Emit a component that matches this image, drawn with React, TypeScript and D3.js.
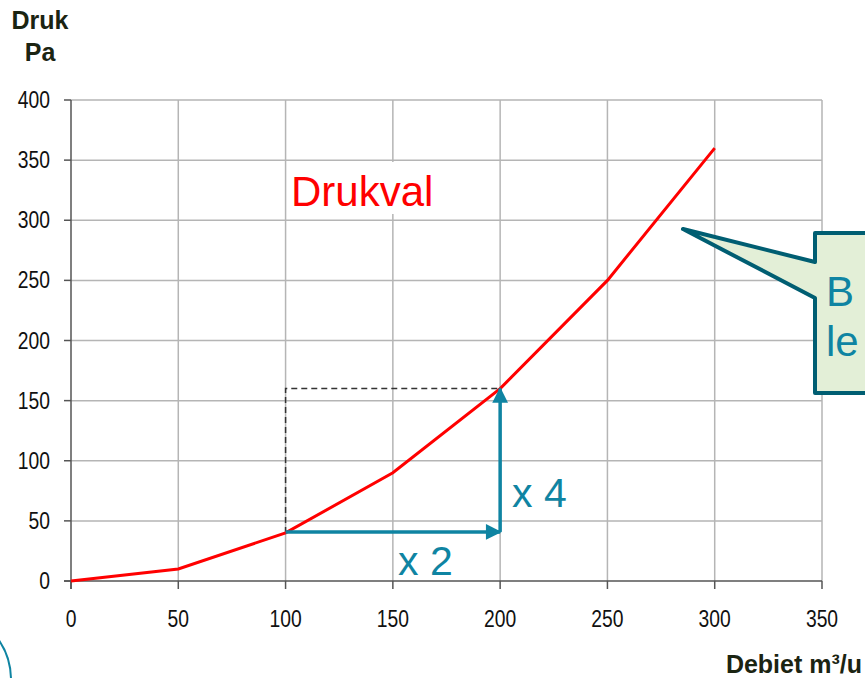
import React from 'react'
import * as d3 from 'd3'

const debiet = [0, 50, 100, 150, 200, 250, 300]
const druk = [0, 10, 40, 90, 160, 250, 360]
const xTicks = [0, 50, 100, 150, 200, 250, 300, 350]
const yTicks = [0, 50, 100, 150, 200, 250, 300, 350, 400]
const startPoint = [100, 40]
const endPoint = [200, 160]

const teal = '#0f84a2'
const gridColor = '#b5b5b5'
const axisColor = '#555'
const labelFont = '"Liberation Sans", Arial, sans-serif'

export default function App() {
    const x = d3.scaleLinear().domain([0, 350]).range([71, 822])
    const y = d3.scaleLinear().domain([0, 400]).range([581, 100])

    const line = d3.line<number>()
        .x((d, i) => x(debiet[i]))
        .y(d => y(d))
    const curve = line(druk)

    // callout balloon, only partly visible at the right edge
    const balloon = 'M815,233 L900,233 L900,393 L815,393 L815,298 L683,229 L815,262 Z'

    // tick labels are a condensed face in the original: squeeze horizontally
    const squeeze = 0.84

    return (
        <svg width={865} height={678} style={{ position: 'absolute', left: 0, top: 0, background: 'white' }}>
            <defs>
                <marker id="arr" viewBox="0 0 10 10" refX="9" refY="5" markerWidth="5" markerHeight="4.5" orient="auto" markerUnits="strokeWidth">
                    <path d="M0,0 L10,5 L0,10 Z" fill={teal} />
                </marker>
            </defs>

            {/* grid */}
            {yTicks.slice(1).map(t => (
                <line key={'gy' + t} x1={x(0)} x2={x(350)} y1={y(t)} y2={y(t)} stroke={gridColor} strokeWidth={1.5} />
            ))}
            {xTicks.slice(1).map(t => (
                <line key={'gx' + t} x1={x(t)} x2={x(t)} y1={y(0)} y2={y(400)} stroke={gridColor} strokeWidth={1.5} />
            ))}

            {/* axes and ticks */}
            <line x1={x(0)} x2={x(0)} y1={y(400)} y2={y(0) + 8} stroke={axisColor} strokeWidth={1.5} />
            <line x1={x(0) - 7} x2={x(350)} y1={y(0)} y2={y(0)} stroke={axisColor} strokeWidth={1.5} />
            {yTicks.map(t => (
                <g key={'ty' + t}>
                    <line x1={x(0) - 7} x2={x(0)} y1={y(t)} y2={y(t)} stroke={axisColor} strokeWidth={1.5} />
                    <text transform={`translate(50,${y(t) + 8}) scale(${squeeze},1)`} textAnchor="end" fontFamily={labelFont} fontSize={23} fill="#111">{t}</text>
                </g>
            ))}
            {xTicks.map(t => (
                <g key={'tx' + t}>
                    <line x1={x(t)} x2={x(t)} y1={y(0)} y2={y(0) + 8} stroke={axisColor} strokeWidth={1.5} />
                    <text transform={`translate(${x(t)},627) scale(${squeeze},1)`} textAnchor="middle" fontFamily={labelFont} fontSize={23} fill="#111">{t}</text>
                </g>
            ))}

            {/* Drukval label with white background */}
            <rect x={288} y={162} width={160} height={52} fill="white" />
            <text x={291} y={206} fontFamily={labelFont} fontSize={42} fill="#ff0000">Drukval</text>

            {/* dashed guide */}
            <path d={`M${x(startPoint[0])},${y(startPoint[1])} L${x(startPoint[0])},${y(endPoint[1])} L${x(endPoint[0])},${y(endPoint[1])}`}
                fill="none" stroke="#333" strokeWidth={1.5} strokeDasharray="6,4" />

            {/* pressure curve */}
            <path d={curve ?? ''} fill="none" stroke="#ff0000" strokeWidth={3} />

            {/* arrows */}
            <line x1={x(startPoint[0])} y1={y(startPoint[1]) - 1} x2={x(endPoint[0])} y2={y(startPoint[1]) - 1}
                stroke={teal} strokeWidth={3.5} markerEnd="url(#arr)" />
            <line x1={x(endPoint[0])} y1={y(startPoint[1]) - 1} x2={x(endPoint[0])} y2={y(endPoint[1])}
                stroke={teal} strokeWidth={3.5} markerEnd="url(#arr)" />
            <text x={398} y={575} fontFamily={labelFont} fontSize={41} fill={teal}>x 2</text>
            <text x={512} y={507} fontFamily={labelFont} fontSize={41} fill={teal}>x 4</text>

            {/* callout */}
            <path d={balloon} fill="#e3efd7" stroke="#005e72" strokeWidth={4} strokeLinejoin="round" />
            <text x={826} y={306} fontFamily={labelFont} fontSize={42} fill={teal}>B</text>
            <text x={826} y={356} fontFamily={labelFont} fontSize={42} fill={teal}>le</text>

            {/* axis titles */}
            <text x={40} y={29} textAnchor="middle" fontFamily={labelFont} fontWeight="bold" fontSize={25} fill="#1b2412">Druk</text>
            <text x={40} y={61} textAnchor="middle" fontFamily={labelFont} fontWeight="bold" fontSize={25} fill="#1b2412">Pa</text>
            <text x={862} y={673} textAnchor="end" fontFamily={labelFont} fontWeight="bold" fontSize={25} fill="#1b2412">Debiet m³/u</text>

            {/* decorative arc bottom-left */}
            <circle cx={-60} cy={680} r={71} fill="none" stroke={teal} strokeWidth={2} />
        </svg>
    )
}
